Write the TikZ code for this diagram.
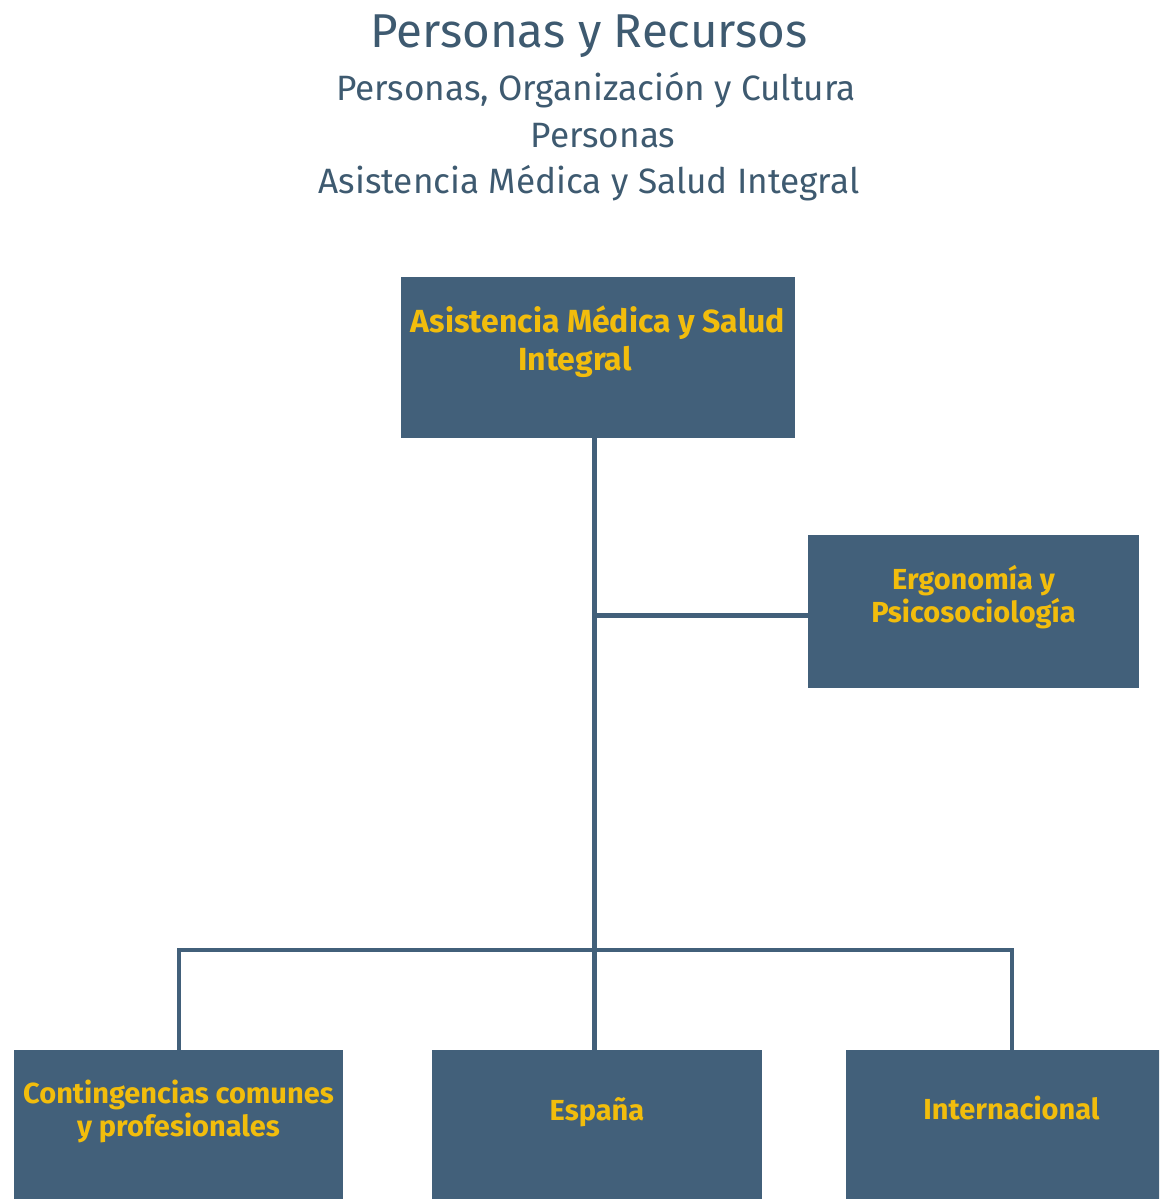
\documentclass[tikz,border=0pt]{standalone}
\usepackage{fontspec}
\setmainfont{Fira Sans}
\usetikzlibrary{positioning}
\definecolor{slate}{HTML}{42607A}
\definecolor{gold}{HTML}{F2BD0C}
\definecolor{headgrey}{HTML}{3E5A70}

\begin{document}
\begin{tikzpicture}[x=1pt,y=-1pt,
	orgbox/.style={rectangle, fill=slate, inner sep=0pt},
	boxtext/.style={text=gold, align=center, inner sep=0pt, font=\fontsize{29}{33}\selectfont\bfseries},
	headline/.style={text=headgrey, anchor=base, inner sep=0pt, font=\fontsize{35.2}{40}\selectfont},
	link/.style={draw=slate, line width=5pt}]
	\useasboundingbox (0,0) rectangle (1159,1199);
	\clip (0,0) rectangle (1159,1199);

	\node[headline, font=\fontsize{47.5}{50}\selectfont] (h1) at (589,48) {Personas y Recursos};
	\node[headline] (h2) at (596,100) {Personas, Organización y Cultura};
	\node[headline] (h3) at (603,147) {Personas};
	\node[headline] (h4) at (589,193) {Asistencia Médica y Salud Integral};

	\node[orgbox, minimum width=394pt, minimum height=161pt] (top) at (598,357.5) {};
	\node[orgbox, minimum width=331pt, minimum height=153pt] (ergo) at (973.5,611.5) {};
	\node[orgbox, minimum width=329pt, minimum height=200pt, anchor=north] (cont) at (178.5,1050) {};
	\node[orgbox, minimum width=330pt, minimum height=200pt, anchor=north] (es) at (597,1050) {};
	\node[orgbox, minimum width=331pt, minimum height=200pt, anchor=north] (intl) at (1011.5,1050) {};

	\node[boxtext, font=\fontsize{32}{38}\selectfont\bfseries] (topt) [below=29pt of top.north] {Asistencia Médica y Salud\\Integral\hspace*{46pt}};
	\node[boxtext] (ergot) [below=30pt of ergo.north] {Ergonomía y\\Psicosociología};
	\node[boxtext] (contt) [below=30pt of cont.north] {Contingencias comunes\\y profesionales};
	\node[boxtext] (est) [below=47pt of es.north] {España};
	\node[boxtext] (intlt) [below=46pt of intl.north] {Internacional};

	\coordinate (bar) at (594,950);
	\draw[link] (top.south -| bar) -- (bar |- es.north);
	\draw[link] ([yshift=-3.5pt]ergo.west) -- ([yshift=-3.5pt]ergo.west -| bar);
	\draw[link, line width=4pt] (cont.north) |- (bar) -| (intl.north);
\end{tikzpicture}
\end{document}
